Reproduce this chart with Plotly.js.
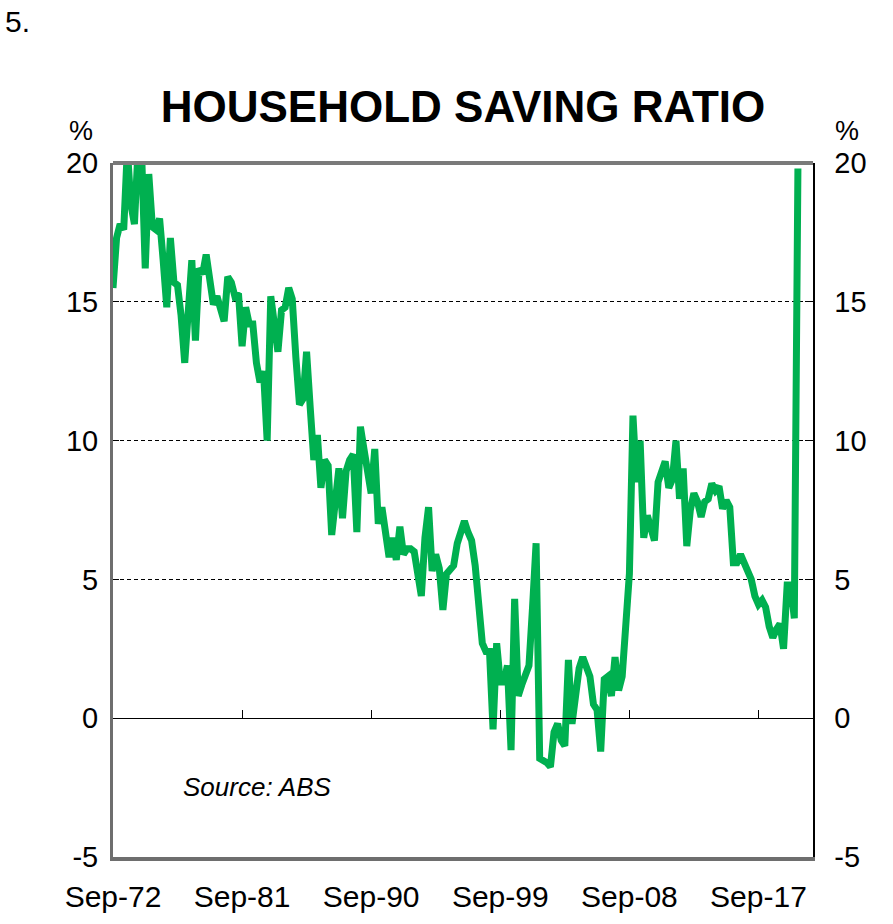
<!DOCTYPE html>
<html>
<head>
<meta charset="utf-8">
<script src="https://cdn.plot.ly/plotly-3.0.1.min.js"></script>
<style>
  html, body { margin: 0; padding: 0; background: #fff; }
  #chart { width: 893px; height: 924px; }
</style>
</head>
<body>
<div id="chart"></div>
<script>
// Household saving ratio, %, quarterly from Sep-1972 to Jun-2020
const firstQuarter = { year: 1972, month: 9 };
const ratio1970s = [15.5, 17.3, 17.8, 17.6, 20.5, 18.5, 17.8, 20.5, 20.3, 16.2,
  19.6, 17.7, 17.6, 18.0, 16.5, 14.8, 17.3, 15.7, 15.6, 14.5,
  12.8, 14.5, 16.5, 13.6, 16.2, 16.0, 16.7, 15.8, 14.9, 15.2,
  14.8, 14.3, 15.9, 15.7, 15.2, 15.3];
const ratio1980s = [13.4, 14.8, 14.2, 14.2, 12.8, 12.1, 12.5, 10.0, 15.2, 14.0,
  13.2, 14.7, 14.8, 15.5, 15.1, 13.0, 11.3, 11.5, 13.2, 11.2,
  9.3, 10.2, 8.3, 9.3, 9.1, 6.6, 7.8, 9.0, 7.2, 8.9,
  9.3, 9.5, 6.7, 10.5, 9.7, 9.0];
const ratio1990s = [8.1, 9.7, 7.0, 7.6, 6.8, 5.8, 6.5, 5.7, 6.9, 5.9,
  6.1, 6.1, 6.0, 5.0, 4.4, 6.5, 7.6, 5.3, 5.9, 5.4,
  3.9, 5.2, 5.4, 5.5, 6.3, 6.8, 7.1, 6.7, 6.4, 5.5,
  4.0, 2.7, 2.4, 2.4, -0.4, 2.7];
const ratio2000s = [1.3, 1.3, 1.9, -1.15, 4.3, 0.8, 1.2, 1.5, 1.9, 4.0,
  6.3, -1.45, -1.5, -1.6, -1.75, -0.5, -0.2, -0.8, -1.0, 2.1,
  -0.2, 0.8, 1.8, 2.2, 1.9, 1.5, 0.5, 0.3, -1.2, 1.4,
  1.5, 0.8, 2.2, 1.0, 1.5, 3.3];
const ratio2010s = [5.2, 10.9, 8.5, 10.0, 6.5, 7.3, 6.8, 6.4, 8.5, 9.0,
  9.25, 8.3, 8.6, 10.0, 7.9, 9.0, 6.2, 7.5, 8.1, 7.8,
  7.25, 7.8, 7.9, 8.45, 8.2, 8.35, 7.55, 7.85, 7.6, 5.6,
  5.6, 5.9, 5.6, 5.4, 5.0, 4.4];
const ratio2017on = [4.1, 4.25, 4.0, 3.3, 2.9, 3.2, 3.4, 2.5, 4.8, 4.8,
  3.6, 19.8];

const savingRatio = [].concat(ratio1970s, ratio1980s, ratio1990s, ratio2000s, ratio2010s, ratio2017on);

// quarter-end months as dates
const quarterDates = savingRatio.map((_, i) => {
  const m0 = firstQuarter.month - 1 + 3 * i;
  const y = firstQuarter.year + Math.floor(m0 / 12);
  const m = (m0 % 12) + 1;
  return y + '-' + String(m).padStart(2, '0') + '-01';
});

const xTickVals = ['1972-09-01', '1981-09-01', '1990-09-01', '1999-09-01', '2008-09-01', '2017-09-01'];
const xTickText = ['Sep-72', 'Sep-81', 'Sep-90', 'Sep-99', 'Sep-08', 'Sep-17'];
const yTickVals = [-5, 0, 5, 10, 15, 20];
const yTickText = ['-5', '0', '5', '10', '15', '20'];
const xRange = ['1972-09-01', '2021-06-20'];
const yRange = [-5, 20];

const FONT = 'Liberation Sans, Arial, Helvetica, sans-serif';
const GREEN = '#00b050';

const traces = [
  {
    x: quarterDates, y: savingRatio, type: 'scatter', mode: 'lines',
    line: { color: GREEN, width: 7 }, xaxis: 'x', yaxis: 'y',
    hoverinfo: 'x+y', showlegend: false
  },
  { // helper so the overlaid axes are drawn
    x: [xRange[0]], y: [null], type: 'scatter', mode: 'lines',
    xaxis: 'x2', yaxis: 'y2', hoverinfo: 'skip', showlegend: false
  }
];

const layout = {
  width: 893, height: 924,
  margin: { l: 113, r: 80, t: 163, b: 67 },
  paper_bgcolor: '#fff', plot_bgcolor: '#fff',
  font: { family: FONT, color: '#000', size: 28 },
  showlegend: false,
  title: {
    text: '<b>HOUSEHOLD SAVING RATIO</b>',
    font: { family: FONT, size: 44, color: '#000' },
    x: 0.5, xref: 'paper', xanchor: 'center',
    y: 1 - 107 / 924, yref: 'container', yanchor: 'middle'
  },
  xaxis: {
    type: 'date', range: xRange, fixedrange: true,
    tickmode: 'array', tickvals: xTickVals, ticktext: xTickText,
    ticks: 'outside', ticklen: 10, tickcolor: 'rgba(0,0,0,0)',
    tickfont: { family: FONT, size: 30, color: '#000' },
    showgrid: false, zeroline: false,
    showline: true, linecolor: '#6e6e6e', linewidth: 4
  },
  xaxis2: {
    type: 'date', range: xRange, overlaying: 'x', anchor: 'free', position: 0.2,
    tickmode: 'array', tickvals: xTickVals, ticktext: xTickText,
    showticklabels: false, ticks: 'inside', ticklen: 8, tickwidth: 1, tickcolor: '#000',
    showgrid: false, zeroline: false,
    showline: true, linecolor: '#000', linewidth: 1
  },
  yaxis: {
    range: yRange, fixedrange: true,
    tickmode: 'array', tickvals: yTickVals, ticktext: yTickText,
    ticks: 'inside', ticklen: 6, tickcolor: '#000',
    ticklabelstandoff: 6,
    tickfont: { family: FONT, size: 29, color: '#000' },
    showgrid: true, gridcolor: '#000', gridwidth: 1, griddash: '4px,3px',
    zeroline: false,
    showline: true, linecolor: '#6e6e6e', linewidth: 3
  },
  yaxis2: {
    range: yRange, overlaying: 'y', side: 'right', anchor: 'x',
    tickmode: 'array', tickvals: yTickVals, ticktext: yTickText,
    ticks: 'inside', ticklen: 8, tickcolor: '#000',
    ticklabelstandoff: 14,
    tickfont: { family: FONT, size: 29, color: '#000' },
    showgrid: false, zeroline: false,
    showline: true, linecolor: '#000', linewidth: 1.5
  },
  shapes: [
    { type: 'line', xref: 'paper', yref: 'paper', x0: 0, x1: 1, y0: 1, y1: 1,
      line: { color: '#7a7a7a', width: 4 } }
  ],
  annotations: [
    { text: '5.', xref: 'paper', yref: 'paper', x: -0.157, y: 1.204,
      xanchor: 'left', yanchor: 'middle', showarrow: false,
      font: { family: FONT, size: 30, color: '#000' } },
    { text: '%', xref: 'paper', yref: 'paper', x: -0.046, y: 1.046,
      xanchor: 'center', yanchor: 'middle', showarrow: false,
      font: { family: FONT, size: 27, color: '#000' } },
    { text: '%', xref: 'paper', yref: 'paper', x: 1.049, y: 1.046,
      xanchor: 'center', yanchor: 'middle', showarrow: false,
      font: { family: FONT, size: 27, color: '#000' } },
    { text: '<i>Source: ABS</i>', xref: 'paper', yref: 'paper', x: 0.097, y: 0.101,
      xanchor: 'left', yanchor: 'middle', showarrow: false,
      font: { family: FONT, size: 26, color: '#000' } }
  ]
};

Plotly.newPlot('chart', traces, layout, { displayModeBar: false, staticPlot: true });
</script>
</body>
</html>
